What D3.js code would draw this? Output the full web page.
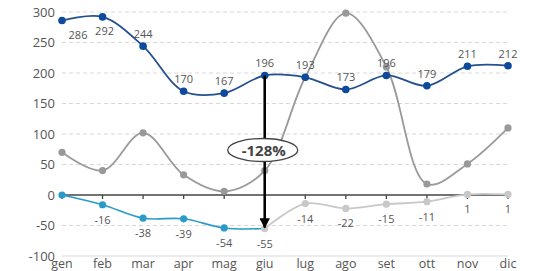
<!DOCTYPE html>
<html>
<head>
<meta charset="utf-8">
<script src="https://cdn.jsdelivr.net/npm/d3@7"></script>
<style>
  body { margin: 0; background: #fff; }
  text { font-family: "Open Sans", sans-serif; }
</style>
</head>
<body>
<svg id="chart"></svg>
<script>
var months = ["gen","feb","mar","apr","mag","giu","lug","ago","set","ott","nov","dic"];
var blueValues = [286, 292, 244, 170, 167, 196, 193, 173, 196, 179, 211, 212];
var greyValues = [70, 40, 102, 33, 6, 40, 193, 298, 210, 18, 51, 110];
var diffValues = [0, -16, -38, -39, -54, -55, -14, -22, -15, -11, 1, 1];
var yTicks = [300, 250, 200, 150, 100, 50, 0, -50, -100];
var splitIndex = 5; // giu: cyan before, light grey after
var changeLabel = "-128%";

var width = 534, height = 271;
var svg = d3.select("#chart").attr("width", width).attr("height", height);

var x = d3.scalePoint().domain(months).range([62, 508]);
var y = d3.scaleLinear().domain([-100, 300]).range([256, 12]);

// grid
svg.append("g").selectAll("line").data(yTicks.filter(function (d) { return d !== 0; }))
  .enter().append("line")
  .attr("x1", x("gen")).attr("x2", x("dic"))
  .attr("y1", function (d) { return y(d); }).attr("y2", function (d) { return y(d); })
  .attr("stroke", "#d9d9d9").attr("stroke-width", 1)
  .attr("stroke-dasharray", function (d) { return d === -100 ? null : "4,3"; });

// y labels
svg.append("g").selectAll("text").data(yTicks).enter().append("text")
  .attr("x", 55).attr("y", function (d) { return y(d) + 4.5; })
  .attr("text-anchor", "end").attr("font-size", 13).attr("fill", "#555")
  .text(function (d) { return d; });

// x labels
svg.append("g").selectAll("text").data(months).enter().append("text")
  .attr("x", function (d) { return x(d); }).attr("y", 268)
  .attr("text-anchor", "middle").attr("font-size", 12.5).attr("fill", "#555")
  .text(function (d) { return d; });

// zero axis + ticks
svg.append("line").attr("x1", x("gen")).attr("x2", x("dic"))
  .attr("y1", y(0)).attr("y2", y(0)).attr("stroke", "#444").attr("stroke-width", 1.3);
svg.append("g").selectAll("line").data(months).enter().append("line")
  .attr("x1", function (d) { return x(d); }).attr("x2", function (d) { return x(d); })
  .attr("y1", y(0)).attr("y2", y(0) + 4).attr("stroke", "#444").attr("stroke-width", 1.3);

var line = d3.line()
  .x(function (d) { return x(d.m); })
  .y(function (d) { return y(d.v); })
  .curve(d3.curveCatmullRom.alpha(0.5));

function series(vals) {
  return vals.map(function (v, i) { return { m: months[i], v: v, i: i }; });
}

var blue = series(blueValues), grey = series(greyValues), diff = series(diffValues);

// grey series
svg.append("path").datum(grey).attr("d", line).attr("fill", "none")
  .attr("stroke", "#9a9a9a").attr("stroke-width", 1.8);
svg.append("g").selectAll("circle").data(grey).enter().append("circle")
  .attr("cx", function (d) { return x(d.m); }).attr("cy", function (d) { return y(d.v); })
  .attr("r", 3.6).attr("fill", "#999");

// diff series
svg.append("path").datum(diff.slice(splitIndex)).attr("d", line).attr("fill", "none")
  .attr("stroke", "#c8c8c8").attr("stroke-width", 1.8);
svg.append("path").datum(diff.slice(0, splitIndex + 1)).attr("d", line).attr("fill", "none")
  .attr("stroke", "#2a9bc8").attr("stroke-width", 1.6);
svg.append("g").selectAll("circle").data(diff).enter().append("circle")
  .attr("cx", function (d) { return x(d.m); }).attr("cy", function (d) { return y(d.v); })
  .attr("r", 3.6).attr("fill", function (d) { return d.i < splitIndex ? "#2a9bc8" : "#c8c8c8"; });
svg.append("g").selectAll("text").data(diff.slice(1)).enter().append("text")
  .attr("x", function (d) { return x(d.m); }).attr("y", function (d) { return y(d.v) + 19; })
  .attr("text-anchor", "middle").attr("font-size", 11).attr("fill", "#555")
  .text(function (d) { return d.v; });

// blue series
svg.append("path").datum(blue).attr("d", line).attr("fill", "none")
  .attr("stroke", "#25508f").attr("stroke-width", 1.8);
svg.append("g").selectAll("circle").data(blue).enter().append("circle")
  .attr("cx", function (d) { return x(d.m); }).attr("cy", function (d) { return y(d.v); })
  .attr("r", 3.8).attr("fill", "#0d4a9c");
svg.append("g").selectAll("text").data(blue).enter().append("text")
  .attr("x", function (d) { return x(d.m) + (d.i === 0 ? 16 : d.i === 1 ? 2 : 0); })
  .attr("y", function (d) { return d.i < 2 ? y(d.v) + 18 : y(d.v) - 8; })
  .attr("text-anchor", "middle").attr("font-size", 11).attr("fill", "#555")
  .text(function (d) { return d.v; });

// annotation arrow
svg.append("defs").append("marker").attr("id", "arr")
  .attr("viewBox", "0 0 10 10").attr("refX", 9).attr("refY", 5)
  .attr("markerWidth", 4).attr("markerHeight", 4).attr("orient", "auto")
  .append("path").attr("d", "M0,0L10,5L0,10z").attr("fill", "#000");
var ax = x(months[splitIndex]);
svg.append("line").attr("x1", ax).attr("x2", ax)
  .attr("y1", y(blueValues[splitIndex])).attr("y2", y(diffValues[splitIndex]) - 1)
  .attr("stroke", "#000").attr("stroke-width", 2.6).attr("marker-end", "url(#arr)");
svg.append("ellipse").attr("cx", ax - 2).attr("cy", 150).attr("rx", 35).attr("ry", 11.5)
  .attr("fill", "#fff").attr("stroke", "#444").attr("stroke-width", 1.3);
svg.append("text").attr("x", ax - 1).attr("y", 155.5).attr("text-anchor", "middle")
  .attr("font-size", 15).attr("font-weight", "bold").attr("fill", "#444")
  .text(changeLabel);
</script>
</body>
</html>
